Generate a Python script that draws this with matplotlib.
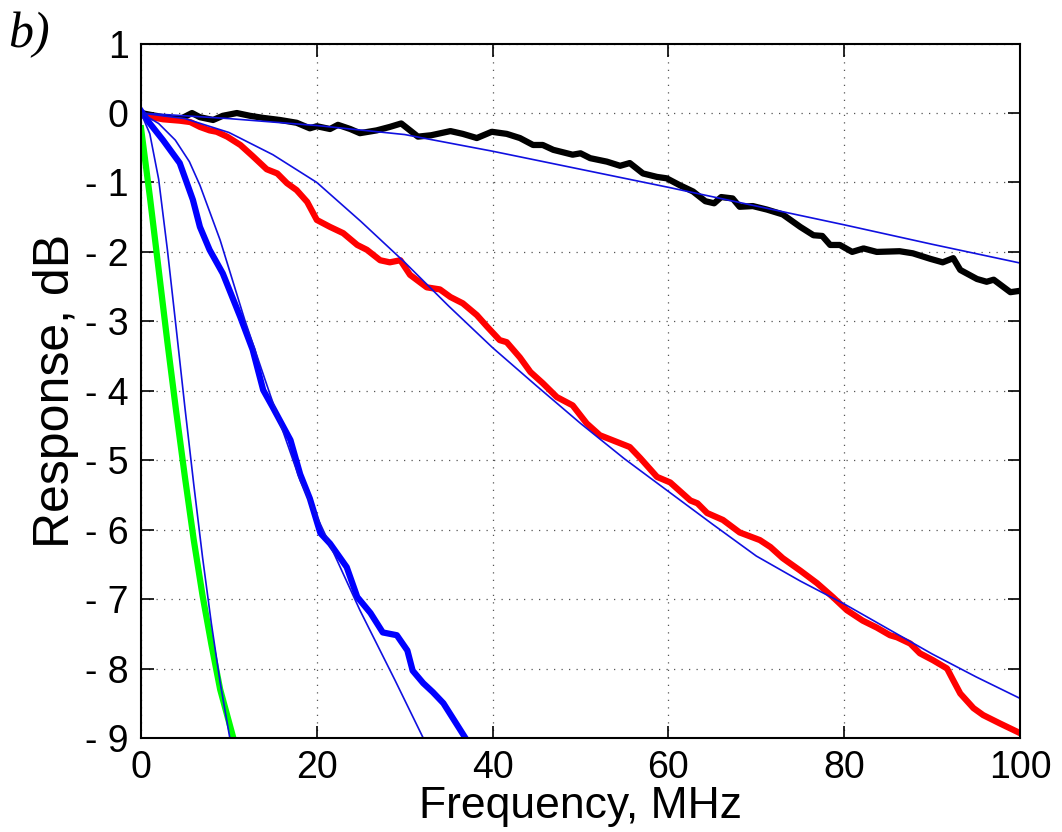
import matplotlib
matplotlib.use("Agg")
import matplotlib.pyplot as plt
from matplotlib.ticker import FuncFormatter

plt.rcParams['font.family'] = ['Liberation Sans', 'DejaVu Sans']

black_f = [0, 2.5, 4.4, 5.8, 6.7, 8.2, 9.3, 10.9, 12.4, 13.9, 15.8, 17.7, 19.2, 20, 21.5,
           22.4, 23.8, 24.9, 26.8, 28.3, 29.6, 31.5, 33, 35.2, 36.6, 38.2, 39.9, 41.6, 43.1,
           44.6, 45.7, 46.9, 49.1, 50, 51.1, 53, 54.5, 55.6, 57.1, 58.7, 59.8, 61.3, 62.8,
           64.2, 65.2, 66, 67.3, 68.1, 69.6, 71.2, 73, 75, 76.5, 77.5, 78.4, 79.5, 80.9, 82.2,
           83.7, 86.3, 87.8, 89.8, 91.2, 92.4, 93.2, 95.1, 96.2, 97, 98.9, 100]
black_db = [0, -0.06, -0.09, 0.0, -0.06, -0.1, -0.04, 0.0, -0.04, -0.07, -0.1, -0.14, -0.22,
            -0.19, -0.23, -0.17, -0.23, -0.29, -0.25, -0.2, -0.15, -0.34, -0.32, -0.26, -0.3,
            -0.36, -0.27, -0.3, -0.36, -0.46, -0.46, -0.53, -0.6, -0.58, -0.65, -0.7, -0.76,
            -0.72, -0.87, -0.92, -0.94, -1.04, -1.13, -1.27, -1.3, -1.21, -1.23, -1.35, -1.34,
            -1.39, -1.46, -1.64, -1.76, -1.77, -1.9, -1.9, -2.0, -1.95, -2.0, -1.99, -2.02,
            -2.1, -2.15, -2.09, -2.26, -2.39, -2.43, -2.4, -2.58, -2.56]

red_f = [0, 2.5, 4.4, 5.6, 6.7, 7.8, 8.6, 9.8, 11.3, 12.7, 14.3, 15.5, 16.6, 17.7, 18.9, 20,
         21.5, 23, 24.6, 25.7, 27.2, 28.3, 29.5, 30.6, 32.5, 34, 35.2, 36.6, 38.2, 39.4, 40.8,
         41.6, 43.1, 44.3, 45.7, 47.3, 49.1, 50.7, 52.2, 54.2, 55.6, 56.8, 58.7, 60.2, 62.5,
         63.3, 64.4, 66.2, 68.1, 70.4, 71.6, 73, 75, 76.9, 78.7, 80.3, 82.1, 83.7, 85.2, 86,
         87.5, 88.6, 90.1, 91.7, 92.4, 93.2, 94.7, 95.8, 97.7, 100]
red_db = [-0.03, -0.09, -0.11, -0.13, -0.2, -0.25, -0.27, -0.34, -0.46, -0.62, -0.81, -0.87,
          -1.01, -1.11, -1.28, -1.54, -1.64, -1.73, -1.9, -1.97, -2.12, -2.15, -2.12, -2.33,
          -2.51, -2.54, -2.65, -2.74, -2.91, -3.08, -3.27, -3.3, -3.52, -3.73, -3.89, -4.09,
          -4.21, -4.47, -4.64, -4.74, -4.81, -4.97, -5.24, -5.32, -5.58, -5.62, -5.76, -5.86,
          -6.04, -6.15, -6.25, -6.41, -6.59, -6.77, -6.97, -7.16, -7.31, -7.41, -7.52, -7.55,
          -7.64, -7.78, -7.88, -8.0, -8.17, -8.36, -8.57, -8.67, -8.79, -8.93]

blue_f = [0, 1, 2.5, 4.4, 5.9, 6.7, 7.8, 9.3, 11.3, 12.7, 13.9, 15, 17, 18.1, 19.2, 20.4,
          21.5, 23.4, 24.6, 26.1, 27.5, 29.1, 30.3, 30.9, 32.1, 33.2, 34.4, 36.9]
blue_db = [0.03, -0.15, -0.39, -0.72, -1.25, -1.64, -1.97, -2.31, -2.94, -3.41, -3.99, -4.24,
           -4.71, -5.2, -5.55, -6.05, -6.2, -6.54, -6.97, -7.2, -7.48, -7.52, -7.74, -8.03,
           -8.21, -8.34, -8.5, -9.0]

green_f = [0, 1, 2, 3, 4, 5, 6, 7, 8, 9, 10.5]
green_db = [-0.22, -1.2, -2.25, -3.3, -4.3, -5.25, -6.15, -6.95, -7.65, -8.3, -9.0]

# Model fits (thin blue lines)
fit_black_f = [0, 10, 20, 30, 40, 50, 60, 70, 80, 90, 100]
fit_black_db = [0, -0.08, -0.18, -0.31, -0.55, -0.81, -1.07, -1.34, -1.61, -1.89, -2.16]

fit_red_f = [0, 5, 10, 15, 20, 25, 30, 35, 40, 45, 50, 55, 60, 65, 70, 75, 80, 85, 90, 95, 100]
fit_red_db = [0, -0.08, -0.28, -0.6, -1.0, -1.56, -2.15, -2.78, -3.38, -3.93, -4.47, -4.98,
              -5.45, -5.92, -6.38, -6.74, -7.07, -7.43, -7.79, -8.12, -8.43]

fit_blue_f = [0, 2, 3.9, 5.5, 6.7, 9.0, 11.8, 14.7, 18.1, 21.5, 24.9, 28.9, 32.1]
fit_blue_db = [0, -0.15, -0.39, -0.7, -1.04, -1.83, -2.98, -4.06, -5.29, -6.22, -7.16, -8.17, -9.0]

fit_green_f = [0, 1, 2, 3, 4, 5, 6, 7, 8, 9, 10.1]
fit_green_db = [0, -0.3, -0.95, -1.97, -3.1, -4.25, -5.35, -6.4, -7.35, -8.2, -9.0]

#################

fig = plt.figure(figsize=(10.62, 8.32), dpi=100)
ax = fig.add_axes([0.1328, 0.113, 0.8277, 0.8346])

thick = 4.5
ax.plot(black_f, black_db, color="black", lw=thick, solid_joinstyle="round")
ax.plot(red_f, red_db, color="#ff0000", lw=thick, solid_joinstyle="round")
ax.plot(blue_f, blue_db, color="#0000ff", lw=thick, solid_joinstyle="round")
ax.plot(green_f, green_db, color="#00ff00", lw=thick, solid_joinstyle="round")

for fx, fy in [(fit_black_f, fit_black_db), (fit_red_f, fit_red_db),
               (fit_blue_f, fit_blue_db), (fit_green_f, fit_green_db)]:
    ax.plot(fx, fy, color="#1010e0", lw=1.2)

ax.set_xlim(0, 100)
ax.set_ylim(-9, 1)
ax.set_xticks([0, 20, 40, 60, 80, 100])
ax.set_yticks(range(-9, 2))
ax.yaxis.set_major_formatter(FuncFormatter(lambda v, p: "- %d" % abs(v) if v < 0 else "%d" % v))

ax.grid(True, linestyle=(0, (1, 5)), color="#555555", lw=0.9)
ax.tick_params(direction="in", length=9, width=1.2, labelsize=27,
               top=True, right=True, pad=9)
for s in ax.spines.values():
    s.set_linewidth(1.5)

ax.set_xlabel("Frequency, MHz", fontsize=32, labelpad=0)
ax.set_ylabel("Response, dB", fontsize=36, labelpad=4)

fig.text(0.008, 0.958, "b)", fontsize=36, style="italic",
         family=["Liberation Serif", "DejaVu Serif"], va="center")

plt.savefig("out.png", dpi=100)
